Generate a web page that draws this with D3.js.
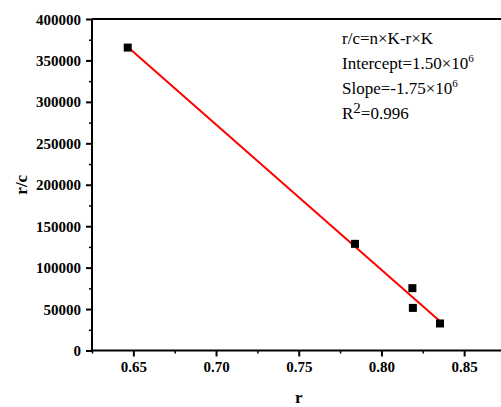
<!DOCTYPE html>
<html>
<head>
<meta charset="utf-8">
<script src="https://cdn.jsdelivr.net/npm/d3@7"></script>
<style>
  html, body { margin: 0; padding: 0; background: #fff; overflow: hidden; }
  svg { display: block; }
</style>
</head>
<body>
<svg id="chart" width="501" height="407"></svg>
<script>
// Measured points: r (fraction bound) and r/c
const rValues  = [0.6466, 0.7840, 0.8187, 0.8190, 0.8354];
const rcValues = [365500, 128700, 75200, 51400, 32600];

// Linear fit r/c = n·K − r·K
const fitIntercept = 1.5005e6;
const fitSlope = -1.754e6;
const fitR2 = 0.996;

const xTicks = [0.65, 0.70, 0.75, 0.80, 0.85];
const yTicks = [0, 50000, 100000, 150000, 200000, 250000, 300000, 350000, 400000];

const serif = "'Liberation Serif', 'Times New Roman', serif";
const svg = d3.select("#chart");
const plotLeft = 92, plotTop = 19, plotRight = 505.5, plotBottom = 350.5;

const x = d3.scaleLinear().domain([0.625, 0.875]).range([plotLeft, plotRight]);
const y = d3.scaleLinear().domain([0, 400000]).range([plotBottom, plotTop]);

// minor ticks
const xMinor = d3.range(0.625, 0.876, 0.025).filter(v => !xTicks.some(t => Math.abs(t - v) < 1e-9));
const yMinor = d3.range(25000, 400000, 50000);

svg.append("g").attr("transform", `translate(0,${plotBottom})`)
  .call(d3.axisBottom(x).tickValues(xMinor).tickSize(3).tickFormat(""))
  .call(g => g.selectAll("line").attr("stroke-width", 1.5))
  .call(g => g.select(".domain").remove());
svg.append("g").attr("transform", `translate(${plotLeft},0)`)
  .call(d3.axisLeft(y).tickValues(yMinor).tickSize(3).tickFormat(""))
  .call(g => g.selectAll("line").attr("stroke-width", 1.5))
  .call(g => g.select(".domain").remove());

function styleTicks(g) {
  g.selectAll(".tick text")
    .style("font-family", serif).style("font-weight", "bold").style("font-size", "15px").attr("fill", "#000");
  g.selectAll(".tick line").attr("stroke-width", 2);
}

// major axes
const xAxis = svg.append("g").attr("transform", `translate(0,${plotBottom})`)
  .call(d3.axisBottom(x).tickValues(xTicks).tickSize(6).tickPadding(5).tickFormat(d3.format(".2f")))
  .call(styleTicks);
xAxis.select(".domain").attr("d", `M${plotLeft - 1},0H${plotRight}`).attr("stroke-width", 2);

const yAxis = svg.append("g").attr("transform", `translate(${plotLeft},0)`)
  .call(d3.axisLeft(y).tickValues(yTicks).tickSize(6).tickPadding(5).tickFormat(d3.format("d")))
  .call(styleTicks);
yAxis.select(".domain").attr("d", `M0,${plotBottom + 1}V${plotTop}`).attr("stroke-width", 2);
yAxis.selectAll(".tick text").attr("dy", "0.34em");

// top frame
svg.append("line").attr("x1", plotLeft).attr("x2", plotRight).attr("y1", plotTop).attr("y2", plotTop)
  .attr("stroke", "#000").attr("stroke-width", 2);

// fit line across the data range
const xr = d3.extent(rValues);
svg.append("line")
  .attr("x1", x(xr[0])).attr("y1", y(fitIntercept + fitSlope * xr[0]))
  .attr("x2", x(xr[1])).attr("y2", y(fitIntercept + fitSlope * xr[1]))
  .attr("stroke", "#ff0000").attr("stroke-width", 2);

// data points
const s = 8;
svg.append("g").selectAll("rect").data(rValues).join("rect")
  .attr("x", (d) => x(d) - s / 2)
  .attr("y", (d, i) => y(rcValues[i]) - s / 2)
  .attr("width", s).attr("height", s).attr("fill", "#000");

// axis titles
svg.append("text").attr("x", x(0.75)).attr("y", 403)
  .attr("text-anchor", "middle")
  .style("font-family", serif).style("font-weight", "bold").style("font-size", "17px")
  .text("r");
svg.append("text").attr("transform", `translate(27,${(plotTop + plotBottom) / 2}) rotate(-90)`)
  .attr("text-anchor", "middle")
  .style("font-family", serif).style("font-weight", "bold").style("font-size", "17px")
  .text("r/c");

// fit annotation
const ann = svg.append("g").attr("transform", "translate(342,0)")
  .style("font-family", serif).style("font-size", "17px");
ann.append("text").attr("y", 44).text("r/c=n×K-r×K");
const t2 = ann.append("text").attr("y", 69);
t2.append("tspan").text(`Intercept=${(fitIntercept / 1e6).toFixed(2)}×10`);
t2.append("tspan").attr("dy", -7).style("font-size", "11px").text("6");
const t3 = ann.append("text").attr("y", 94);
t3.append("tspan").text(`Slope=${(fitSlope / 1e6).toFixed(2)}×10`);
t3.append("tspan").attr("dy", -7).style("font-size", "11px").text("6");
const t4 = ann.append("text").attr("y", 119);
t4.append("tspan").text("R");
t4.append("tspan").attr("dy", -6).style("font-size", "15px").text("2");
t4.append("tspan").attr("dy", 6).text(`=${fitR2.toFixed(3)}`);
</script>
</body>
</html>
